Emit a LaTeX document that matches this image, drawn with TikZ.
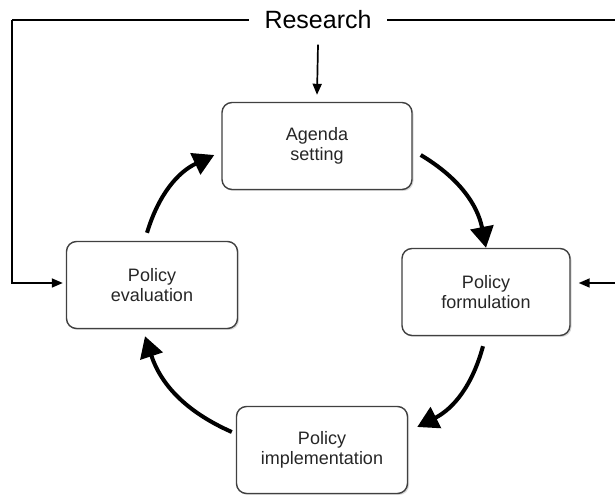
\documentclass[tikz,border=0pt]{standalone}
\usepackage{fontspec}
\setmainfont{Liberation Sans}
\usetikzlibrary{arrows.meta,shadows}
\tikzset{
	stage/.style = {draw=black!75, line width=1.4pt, rounded corners=10pt, fill=white,
		minimum width=#1, minimum height=87pt, align=center, inner sep=0pt,
		font=\fontsize{18}{20}\selectfont, text=black!85,
		drop shadow={shadow xshift=1.5pt, shadow yshift=-1.5pt, opacity=.3}},
	cycle/.style = {line width=4pt, -{Triangle[length=21pt, width=23pt]}, bend left=24},
	feed/.style = {line width=1.7pt},
	feedarrow/.style = {feed, -{Triangle[length=11pt, width=9pt]}},
}
\begin{document}
\begin{tikzpicture}[x=1pt, y=1pt]
	\useasboundingbox (0,0) rectangle (615,500);

	% Nodes
	\node (R) at (318,480) {\fontsize{25}{28}\selectfont Research};
	\node[stage=190pt] (A) at (317,354) {Agenda\\setting};
	\node[stage=168pt] (F) at (486,208) {Policy\\formulation};
	\node[stage=171pt] (I) at (322,50) {Policy\\implementation};
	\node[stage=171pt] (E) at (152,215) {Policy\\evaluation};

	\coordinate (L) at (12,480);
	\coordinate (Rt) at (616,480);

	% Research lines
	\draw[feed] ([xshift=-12pt]R.west) -- (L);
	\draw[feedarrow] (L) |- ([xshift=-3pt]E.west |- 0,217);
	\draw[feed] ([xshift=12pt]R.east) -- (Rt);
	\draw[feedarrow] (Rt |- 0,217) -- ([xshift=8pt]F.east |- 0,217);
	\draw[feedarrow] ([yshift=-12pt]R.south) -- ([yshift=7pt]A.north);

	% Cycle
	\draw[cycle] ([shift={(8pt,-9pt)}]A.east) to (F.north);
	\draw[cycle] ([shift={(-3pt,-10pt)}]F.south) to ([shift={(9pt,23pt)}]I.east);
	\draw[cycle] ([shift={(-4pt,18pt)}]I.west) to ([shift={(-7pt,-7pt)}]E.south);
	\draw[cycle] ([shift={(-5pt,8pt)}]E.north) to ([shift={(-7pt,-9pt)}]A.west);
\end{tikzpicture}
\end{document}
